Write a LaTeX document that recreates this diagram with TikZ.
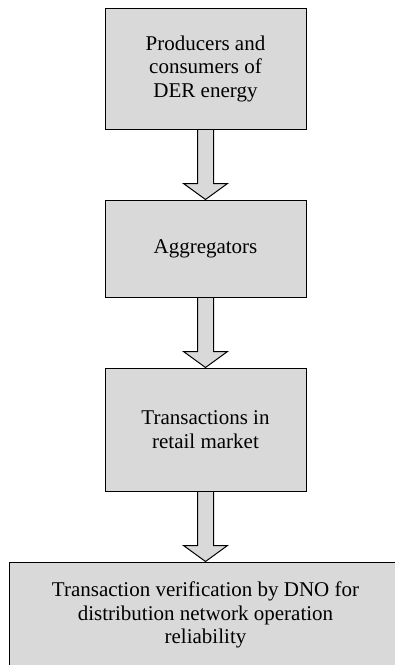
\documentclass[tikz,border=0pt]{standalone}
\usepackage{fontspec}
\setmainfont{Liberation Serif}
\usetikzlibrary{positioning,calc}
\definecolor{boxgray}{HTML}{D9D9D9}
\begin{document}
\begin{tikzpicture}[x=1pt, y=1pt, node distance=70pt,
		every node/.style = {shape=rectangle, draw, align=center,
			fill=boxgray, line width=1pt, inner sep=0pt,
			font=\fontsize{21}{23.5}\selectfont},
		stagebox/.style = {minimum width=201pt, minimum height=121pt},
		bigarrow/.style = {draw, fill=boxgray, line width=1pt, line join=miter}]
	\useasboundingbox (0,0) rectangle (395,-665);
	\node[stagebox] (prod) at (205.5,-68.5) {Producers and\\consumers of\\DER energy};
	\node[stagebox, minimum height=97pt, below=of prod] (aggr) {Aggregators};
	\node[stagebox, minimum height=123pt, below=of aggr] (retail) {Transactions in\\retail market};
	\node[minimum width=393pt, minimum height=106pt, below=of retail] (dno)
		{Transaction verification by DNO for\\distribution network operation\\reliability};
	\foreach \a/\b in {prod/aggr, aggr/retail, retail/dno}
		\draw[bigarrow] ($(\a.south)+(-8,-0.5)$) -- ($(\b.north)+(-8,16)$)
			-- ($(\b.north)+(-22,16)$) -- (\b.north) -- ($(\b.north)+(22,16)$)
			-- ($(\b.north)+(8,16)$) -- ($(\a.south)+(8,-0.5)$);
\end{tikzpicture}
\end{document}
